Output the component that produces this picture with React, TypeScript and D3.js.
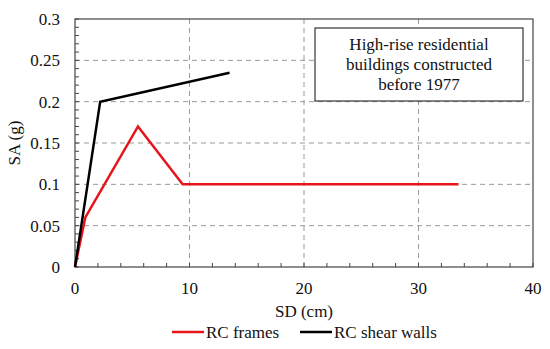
import React from "react";
import * as d3 from "d3";

// RC frames capacity curve (SD in cm, SA in g)
const framesSD = [0, 0.9, 5.5, 9.4, 33.5];
const framesSA = [0, 0.06, 0.17, 0.1, 0.1];

// RC shear walls capacity curve
const wallsSD = [0, 2.2, 13.5];
const wallsSA = [0, 0.2, 0.235];

const xTicks = [0, 10, 20, 30, 40];
const yTicks = [0, 0.05, 0.1, 0.15, 0.2, 0.25, 0.3];
const yTickLabels = ["0", "0.05", "0.1", "0.15", "0.2", "0.25", "0.3"];
const boxLines = ["High-rise residential", "buildings constructed", "before 1977"];
const legendLabels = ["RC frames", "RC shear walls"];
const legendColors = ["#e8141b", "#000000"];

const width = 550;
const height = 349;
const left = 75;
const right = 533;
const top = 19;
const bottom = 267;

const txtStyle = { fontFamily: "Times New Roman", fontSize: 17 };

const App = () => {
  const x = d3.scaleLinear().domain([0, 40]).range([left, right]);
  const y = d3.scaleLinear().domain([0, 0.3]).range([bottom, top]);
  const line = d3.line<[number, number]>().x((d) => x(d[0])).y((d) => y(d[1]));

  const frames = framesSD.map((d, i) => [d, framesSA[i]] as [number, number]);
  const walls = wallsSD.map((d, i) => [d, wallsSA[i]] as [number, number]);
  const legendX = [172, 300];

  return (
    <svg width={width} height={height} style={{ display: "block", margin: -8 }} fill="#111">
      <rect x={0} y={0} width={width} height={height} fill="#fff" />
      {/* dashed grid */}
      <g stroke="#999" strokeDasharray="5,4" strokeWidth={1}>
        {xTicks.slice(1, -1).map((t) => (
          <line key={"gx" + t} x1={x(t)} x2={x(t)} y1={top} y2={bottom} />
        ))}
        {yTicks.slice(1, -1).map((t) => (
          <line key={"gy" + t} x1={left} x2={right} y1={y(t)} y2={y(t)} />
        ))}
      </g>

      {/* minor ticks pointing inward */}
      <g stroke="#444" strokeWidth={1}>
        {d3.range(0, 40.01, 2).map((t) => (
          <line key={"mx" + t} x1={x(t)} x2={x(t)} y1={bottom} y2={bottom - 4} />
        ))}
        {d3.range(0, 0.3001, 0.01).map((t, i) => (
          <line key={"my" + i} x1={left} x2={left + 4} y1={y(t)} y2={y(t)} />
        ))}
      </g>

      <rect x={left} y={top} width={right - left} height={bottom - top} fill="none" stroke="#444" strokeWidth={1.2} />

      {/* tick labels */}
      {xTicks.map((t) => (
        <text key={"lx" + t} x={x(t)} y={bottom + 27} textAnchor="middle" style={txtStyle}>
          {t}
        </text>
      ))}
      {yTicks.map((t, i) => (
        <text key={"ly" + t} x={left - 15} y={y(t) + 6} textAnchor="end" style={txtStyle}>
          {yTickLabels[i]}
        </text>
      ))}

      {/* axis titles */}
      <text x={(left + right) / 2} y={bottom + 50} textAnchor="middle" style={txtStyle}>
        SD (cm)
      </text>
      <text transform={`translate(20,${(top + bottom) / 2}) rotate(-90)`} textAnchor="middle" style={txtStyle}>
        SA (g)
      </text>

      {/* curves */}
      <path d={line(frames) || ""} fill="none" stroke={legendColors[0]} strokeWidth={2.5} />
      <path d={line(walls) || ""} fill="none" stroke={legendColors[1]} strokeWidth={2.5} />

      {/* annotation box */}
      <rect x={315} y={28} width={208} height={73} fill="#fff" stroke="#333" strokeWidth={1.2} />
      {boxLines.map((l, i) => (
        <text key={l} x={419} y={50 + i * 20} textAnchor="middle" style={txtStyle}>
          {l}
        </text>
      ))}

      {/* legend */}
      {legendLabels.map((l, i) => (
        <g key={l}>
          <line x1={legendX[i]} x2={legendX[i] + 32} y1={332} y2={332} stroke={legendColors[i]} strokeWidth={2.5} />
          <text x={legendX[i] + 34} y={338} style={txtStyle}>
            {l}
          </text>
        </g>
      ))}
    </svg>
  );
};

export default App;
